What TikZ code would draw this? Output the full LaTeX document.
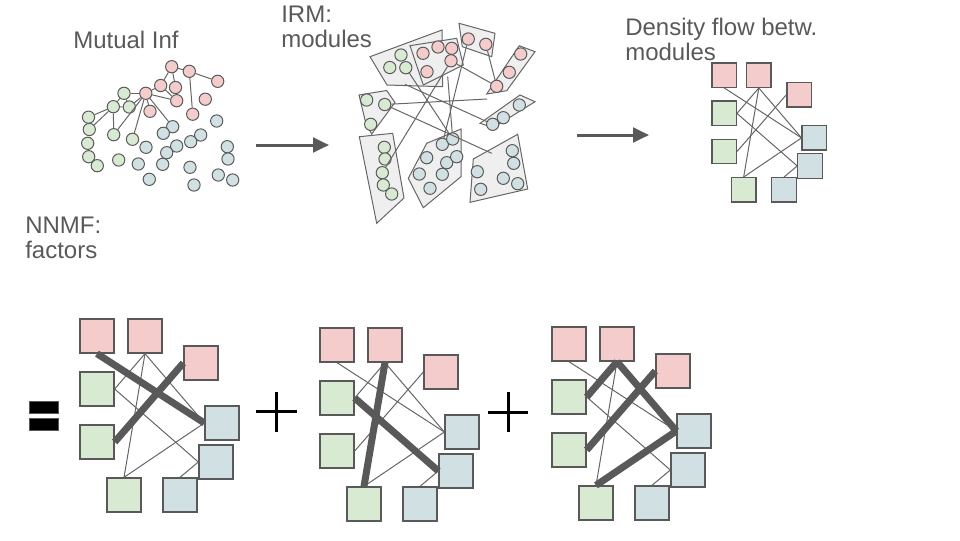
\documentclass[tikz,border=0pt]{standalone}
\usepackage{fontspec}
\setmainfont{Liberation Sans}
\usetikzlibrary{arrows.meta}
\definecolor{pk}{HTML}{F4CCCC}
\definecolor{gn}{HTML}{D9EAD3}
\definecolor{bl}{HTML}{D0E0E3}
\definecolor{bd}{HTML}{595959}
\definecolor{ln}{HTML}{666666}
\definecolor{pg}{HTML}{EFEFEF}
\definecolor{txt}{HTML}{595959}
\newcommand\mkgroup[4]{%
 \begin{scope}[shift={(#2,#3)},scale=#4,every node/.append style={transform shape}]
  \node[sq,fill=pk] (#1p1) at (17,17) {};
  \node[sq,fill=pk] (#1p2) at (65,17) {};
  \node[sq,fill=pk] (#1p3) at (121,44) {};
  \node[sq,fill=gn] (#1g1) at (17,70) {};
  \node[sq,fill=gn] (#1g2) at (17,123) {};
  \node[sq,fill=gn] (#1g3) at (44,176) {};
  \node[sq,fill=bl] (#1b1) at (142,104) {};
  \node[sq,fill=bl] (#1b2) at (136,143) {};
  \node[sq,fill=bl] (#1b3) at (100,176) {};
 \end{scope}}
\begin{document}
\begin{tikzpicture}[x=0.75pt,y=-0.75pt,
  lbl/.style={font=\fontsize{18pt}{18.6pt}\selectfont, text=txt, inner sep=0, anchor=base west},
  mc/.style={circle, draw=bd, line width=0.75pt, minimum size=9.2pt, inner sep=0},
  mp/.style={mc, fill=pk}, mg/.style={mc, fill=gn}, mb/.style={mc, fill=bl},
  ed/.style={draw=ln, line width=0.75pt},
  poly/.style={draw=ln, fill=pg, line width=0.75pt},
  sq/.style={rectangle, draw=bd, line width=1pt, minimum size=25.5pt, inner sep=0},
  thinE/.style={draw=ln, line width=0.75pt},
  thk/.style={draw=bd, line width=5.25pt},
  arr/.style={draw=bd, line width=2.25pt, -{Triangle[length=12pt,width=11pt]}},
  plus/.style={draw=black, line width=2.25pt},
  eqbar/.style={fill=black, draw=bd, line width=0.75pt}
]
\useasboundingbox (0,0) rectangle (960,540);

% ---- texts ----
\node[lbl] (tmi) at (73,48) {Mutual Inf};
\node[lbl] (tirm) at (281,22.7) {\vtop{\hbox{IRM:}\hbox{modules}}};
\node[lbl] (tdf) at (625,35.5) {\vtop{\hbox{Density flow betw.}\hbox{modules}}};
\node[lbl] (tnn) at (25,233.3) {\vtop{\hbox{NNMF:}\hbox{factors}}};

% ---- mutual information graph ----
\node[mp] (P1) at (171.7,66.7) {};
\node[mp] (P2) at (189.3,71.3) {};
\node[mp] (P3) at (217.7,81.3) {};
\node[mp] (P4) at (160.7,85.5) {};
\node[mp] (P5) at (175.5,87.5) {};
\node[mp] (P6) at (145.8,93.3) {};
\node[mp] (P7) at (176.7,100.7) {};
\node[mp] (P8) at (205.3,99.2) {};
\node[mp] (P9) at (150,111.3) {};
\node[mp] (P10) at (192.7,114.2) {};
\node[mg] (G1) at (124,93.3) {};
\node[mg] (G2) at (113.3,106.7) {};
\node[mg] (G3) at (129.3,107) {};
\node[mg] (G4) at (88.5,117.2) {};
\node[mg] (G5) at (89.3,129.5) {};
\node[mg] (G6) at (113.7,134.7) {};
\node[mg] (G7) at (132.5,139.3) {};
\node[mg] (G8) at (87.7,143.3) {};
\node[mg] (G9) at (88.7,156.7) {};
\node[mg] (G10) at (97.3,165.7) {};
\node[mg] (G11) at (118.7,160) {};
\node[mb] (B1) at (172.7,126.7) {};
\node[mb] (B2) at (163.3,133.3) {};
\node[mb] (B3) at (216.7,121) {};
\node[mb] (B4) at (200.7,135) {};
\node[mb] (B5) at (190.7,141.7) {};
\node[mb] (B6) at (176.7,146) {};
\node[mb] (B7) at (146,147.3) {};
\node[mb] (B8) at (166.7,152.7) {};
\node[mb] (B9) at (227.3,146.7) {};
\node[mb] (B10) at (228,159) {};
\node[mb] (B11) at (138.3,164) {};
\node[mb] (B12) at (162.7,164.3) {};
\node[mb] (B13) at (190,167.3) {};
\node[mb] (B14) at (218.3,175) {};
\node[mb] (B15) at (232.7,180) {};
\node[mb] (B16) at (149.3,179.3) {};
\node[mb] (B17) at (194,185) {};
\foreach \a/\b in {P1/P2,P2/P3,P1/P4,P1/P5,P2/P10,P4/P6,P4/P7,P6/P7,P6/P9,P6/G1,
  G1/G2,G1/G3,G2/G3,G2/G4,G2/G5,G2/G6,P6/G3,P6/G6,P6/G7,P6/B1}
  \draw[ed] (\a) -- (\b);

% ---- arrows ----
\coordinate (a1s) at (256,145);
\coordinate (a1e) at (329,145);
\coordinate (a2s) at (577,135);
\coordinate (a2e) at (649,135);
\draw[arr] (a1s) -- (a1e);
\draw[arr] (a2s) -- (a2e);

% ---- IRM modules ----
\draw[poly] (370,56.7) -- (442,30) -- (442.7,86.7) -- (387,85) -- cycle;
\draw[poly] (410,45.7) -- (456.7,38.3) -- (463.3,65) -- (423.3,85) -- cycle;
\draw[poly] (459,23.3) -- (495,33.3) -- (491.7,56.7) -- (462.3,46.7) -- cycle;
\draw[poly] (519.3,45.7) -- (535,51.7) -- (506.7,90.7) -- (486.7,94) -- cycle;
\draw[poly] (359,95) -- (386.7,90.5) -- (395,102.5) -- (371.7,134) -- (366,124) -- cycle;
\draw[poly] (480,123.3) -- (520,95) -- (535,101.7) -- (493.3,127.7) -- cycle;
\draw[poly] (359.3,136.7) -- (392.7,133.3) -- (404,198) -- (376.7,223.3) -- cycle;
\draw[poly] (408.3,178.3) -- (426.7,143.3) -- (461,129) -- (461,176.7) -- (423.3,207.7) -- cycle;
\draw[poly] (473.3,159) -- (517.7,134.3) -- (527.7,189) -- (470,202.3) -- cycle;

\node[mg] (ia1) at (401,55) {};
\node[mg] (ia2) at (389.8,67.5) {};
\node[mg] (ia3) at (405.8,67.7) {};
\node[mp] (ib1) at (423,53.3) {};
\node[mp] (ib2) at (438,47) {};
\node[mp] (ib3) at (451.7,48.3) {};
\node[mp] (ib4) at (451,60.8) {};
\node[mp] (ib5) at (427,71.7) {};
\node[mp] (ic1) at (468.3,39) {};
\node[mp] (ic2) at (485.8,44.3) {};
\node[mp] (id1) at (520.7,54) {};
\node[mp] (id2) at (509.3,72.3) {};
\node[mp] (id3) at (496.7,86.3) {};
\node[mg] (ie1) at (366.7,100) {};
\node[mg] (ie2) at (384.7,104.5) {};
\node[mg] (ie3) at (370.7,124.3) {};
\node[mb] (if1) at (492.7,124.3) {};
\node[mb] (if2) at (503.3,117.7) {};
\node[mb] (if3) at (519.3,105) {};
\node[mg] (ig1) at (384.3,147.3) {};
\node[mg] (ig2) at (385,159) {};
\node[mg] (ig3) at (382.3,172.7) {};
\node[mg] (ig4) at (383.3,185) {};
\node[mg] (ig5) at (391.7,194) {};
\node[mb] (ih1) at (442.3,144.3) {};
\node[mb] (ih2) at (452.7,139) {};
\node[mb] (ih3) at (426.7,157.7) {};
\node[mb] (ih4) at (446.7,162.7) {};
\node[mb] (ih5) at (456.7,156.7) {};
\node[mb] (ih6) at (419.3,174) {};
\node[mb] (ih7) at (442.3,174.3) {};
\node[mb] (ih8) at (430,188.3) {};
\node[mb] (ii1) at (512.3,150.7) {};
\node[mb] (ii2) at (513.7,163.3) {};
\node[mb] (ii3) at (477.3,171.7) {};
\node[mb] (ii4) at (503.3,178.3) {};
\node[mb] (ii5) at (517.7,183.7) {};
\node[mb] (ii6) at (480.7,189.3) {};

\coordinate (fe1) at (487,99);
\coordinate (fe2) at (491.7,153.3);
\coordinate (fe3) at (447.7,76.7);
\coordinate (fe4) at (405,84.3);
\draw[ed] (ic1) -- (ih1);
\draw[ed] (ic2) -- (id3);
\draw[ed] (ib4) -- (ig3);
\draw[ed] (ib4) -- (id3);
\draw[ed] (ia3) -- (ih2);
\draw[ed] (ie2) -- (fe1);
\draw[ed] (ie2) -- (fe2);
\draw[ed] (fe3) -- (ih2);
\draw[ed] (fe4) -- (if1);

% ---- density flow between modules ----
\mkgroup{d}{712}{63}{0.72}
\foreach \a/\b in {p1.south/b1.west,p2.south/g1.east,p2.south/b1.west,p2.south/g3.north,
  g1.east/b2.west,p3.west/g2.east,g3.north/b1.west,b3.north/b2.west}
  \draw[thinE] (d\a) -- (d\b);

% ---- NNMF factors ----
\draw[eqbar] (29,401) rectangle (58,413);
\draw[eqbar] (29,418) rectangle (58,430);

\mkgroup{x}{80}{319}{1}
\foreach \a/\b in {p2.south/g1.east,p2.south/b1.west,p2.south/g3.north,
  g1.east/b2.west,g3.north/b1.west,b3.north/b2.west}
  \draw[thinE] (x\a) -- (x\b);
\foreach \a/\b in {p1.south/b1.west,p3.west/g2.east}
  \draw[thk] (x\a) -- (x\b);

\draw[plus] (256,411) -- (297,411);
\draw[plus] (276.5,392) -- (276.5,432);

\mkgroup{y}{320}{328}{1}
\foreach \a/\b in {p1.south/b1.west,p2.south/g1.east,p2.south/b1.west,
  p3.west/g2.east,g3.north/b1.west,b3.north/b2.west}
  \draw[thinE] (y\a) -- (y\b);
\foreach \a/\b in {p2.south/g3.north,g1.east/b2.west}
  \draw[thk] (y\a) -- (y\b);

\draw[plus] (488,412) -- (528,412);
\draw[plus] (508,392) -- (508,432);

\mkgroup{z}{552}{327}{1}
\foreach \a/\b in {p1.south/b1.west,p2.south/g3.north,g1.east/b2.west,b3.north/b2.west}
  \draw[thinE] (z\a) -- (z\b);
\foreach \a/\b in {p2.south/g1.east,p2.south/b1.west,p3.west/g2.east,g3.north/b1.west}
  \draw[thk] (z\a) -- (z\b);
\end{tikzpicture}
\end{document}
